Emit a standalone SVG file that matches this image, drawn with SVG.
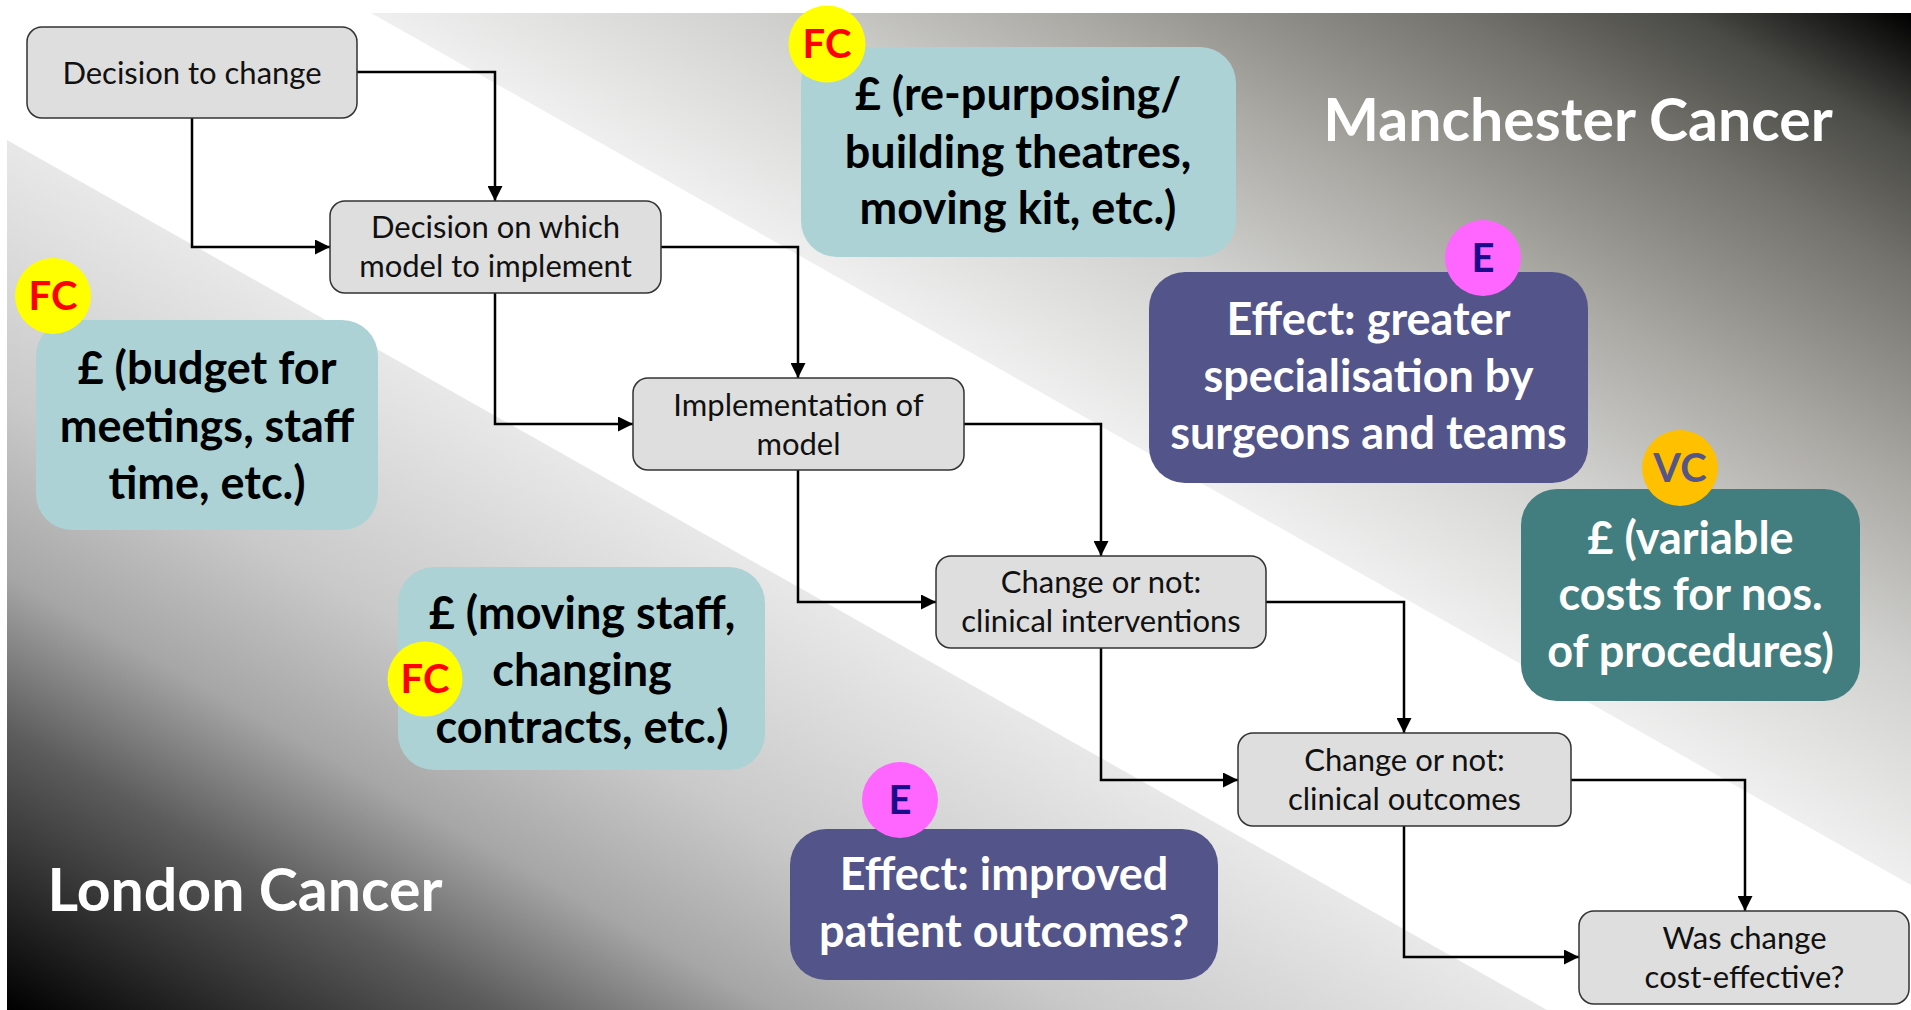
<svg xmlns="http://www.w3.org/2000/svg" width="1911" height="1010" viewBox="0 0 1911 1010">
  <defs>
    <!-- shaded corner regions -->
    <linearGradient id="gradNE" gradientUnits="userSpaceOnUse" x1="1537" y1="673" x2="1911" y2="13">
      <stop offset="0" stop-color="#efefef"/>
      <stop offset="0.25" stop-color="#d0d0ce"/>
      <stop offset="0.45" stop-color="#abaaa5"/>
      <stop offset="0.7" stop-color="#74736d"/>
      <stop offset="0.85" stop-color="#4a4a46"/>
      <stop offset="1" stop-color="#000000"/>
    </linearGradient>
    <linearGradient id="gradSW" gradientUnits="userSpaceOnUse" x1="380" y1="351" x2="7" y2="1010">
      <stop offset="0" stop-color="#e8e8e8"/>
      <stop offset="0.3" stop-color="#c9c9c9"/>
      <stop offset="0.5" stop-color="#a6a6a6"/>
      <stop offset="0.68" stop-color="#5c5c5c"/>
      <stop offset="0.85" stop-color="#2c2c2c"/>
      <stop offset="1" stop-color="#000000"/>
    </linearGradient>
    <marker id="arrow" viewBox="0 0 15 15" refX="15" refY="7.5" markerWidth="15" markerHeight="15" markerUnits="userSpaceOnUse" orient="auto">
      <path d="M0,0 L15,7.5 L0,15 z" fill="#000"/>
    </marker>
  </defs>
  <style>
    .step rect { fill: #dedede; stroke: #333333; stroke-width: 1.5; }
    .step text { font-family: Lato, "Liberation Sans", sans-serif; font-size: 31px; fill: #111; text-anchor: middle; }
    .cost rect { fill: #acd2d5; }
    .cost text { font-family: Lato, "Liberation Sans", sans-serif; font-weight: bold; font-size: 45px; fill: #000; text-anchor: middle; }
    .effect rect { fill: #53548a; }
    .effect text, .vcost text { font-family: Lato, "Liberation Sans", sans-serif; font-weight: bold; font-size: 45px; fill: #fff; text-anchor: middle; }
    .vcost rect { fill: #427e80; }
    .badge text { font-family: Lato, "Liberation Sans", sans-serif; font-weight: bold; font-size: 40px; text-anchor: middle; }
    .fc circle { fill: #ffff00; }
    .fc text { fill: #ff0000; }
    .e circle { fill: #ff66ff; }
    .e text { fill: #1a0a8c; }
    .vc circle { fill: #ffc000; }
    .vc text { fill: #55558a; }
    .title { font-family: Lato, "Liberation Sans", sans-serif; font-weight: bold; font-size: 59px; fill: #fff; text-anchor: middle; }
    .links path { fill: none; stroke: #000; stroke-width: 2.5; marker-end: url(#arrow); }
  </style>

  <!-- background -->
  <rect x="0" y="0" width="1911" height="1010" fill="#ffffff"/>
  <polygon points="371,13 1911,13 1911,885" fill="url(#gradNE)"/>
  <polygon points="7,140 1547,1010 7,1010" fill="url(#gradSW)"/>

  <text class="title" x="1578" y="141">Manchester Cancer</text>
  <text class="title" x="245" y="911">London Cancer</text>

  <!-- connectors -->
  <g id="connectors" class="links">
    <path d="M357,72 H495 V201"/>
    <path d="M192,118 V247 H330"/>
    <path d="M661,247 H798 V378"/>
    <path d="M495,293 V424 H633"/>
    <path d="M964,424 H1101 V556"/>
    <path d="M798,470 V602 H936"/>
    <path d="M1266,602 H1404 V733"/>
    <path d="M1101,648 V780 H1238"/>
    <path d="M1571,780 H1745 V911"/>
    <path d="M1404,826 V957 H1579"/>
  </g>

  <!-- process steps -->
  <g id="decision-to-change" class="step">
    <rect x="27" y="27" width="330" height="91" rx="15"/>
    <text x="192" y="84">Decision to change</text>
  </g>
  <g id="decision-model" class="step">
    <rect x="330" y="201" width="331" height="92" rx="15"/>
    <text x="495.5" y="238">Decision on which</text>
    <text x="495.5" y="277">model to implement</text>
  </g>
  <g id="implementation" class="step">
    <rect x="633" y="378" width="331" height="92" rx="15"/>
    <text x="798.5" y="416">Implementation of</text>
    <text x="798.5" y="455">model</text>
  </g>
  <g id="interventions" class="step">
    <rect x="936" y="556" width="330" height="92" rx="15"/>
    <text x="1101" y="593">Change or not:</text>
    <text x="1101" y="632">clinical interventions</text>
  </g>
  <g id="outcomes" class="step">
    <rect x="1238" y="733" width="333" height="93" rx="15"/>
    <text x="1404.5" y="771">Change or not:</text>
    <text x="1404.5" y="810">clinical outcomes</text>
  </g>
  <g id="cost-effective" class="step">
    <rect x="1579" y="911" width="330" height="93" rx="15"/>
    <text x="1744.5" y="949">Was change</text>
    <text x="1744.5" y="988">cost-effective?</text>
  </g>

  <!-- cost and effect callouts -->
  <g id="cost-theatres" class="cost">
    <rect x="801" y="47" width="435" height="210" rx="36"/>
    <text x="1018" y="110">£ (re-purposing/</text>
    <text x="1018" y="168">building theatres,</text>
    <text x="1018" y="224">moving kit, etc.)</text>
  </g>
  <g id="badge-fc-theatres" class="badge fc">
    <circle cx="827" cy="44" r="38.5"/>
    <text x="827" y="58">FC</text>
  </g>

  <g id="cost-meetings" class="cost">
    <rect x="36" y="320" width="342" height="210" rx="36"/>
    <text x="207" y="384">£ (budget for</text>
    <text x="207" y="442">meetings, staff</text>
    <text x="207" y="499">time, etc.)</text>
  </g>
  <g id="badge-fc-meetings" class="badge fc">
    <circle cx="53" cy="296" r="38"/>
    <text x="53" y="310">FC</text>
  </g>

  <g id="cost-staff" class="cost">
    <rect x="398" y="567" width="367" height="203" rx="36"/>
    <text x="582" y="629">£ (moving staff,</text>
    <text x="582" y="686">changing</text>
    <text x="582" y="743">contracts, etc.)</text>
  </g>
  <g id="badge-fc-staff" class="badge fc">
    <circle cx="425" cy="679" r="37.5"/>
    <text x="425" y="693">FC</text>
  </g>

  <g id="effect-specialisation" class="effect">
    <rect x="1149" y="272" width="439" height="211" rx="36"/>
    <text x="1368.5" y="335">Effect: greater</text>
    <text x="1368.5" y="392">specialisation by</text>
    <text x="1368.5" y="449">surgeons and teams</text>
  </g>
  <g id="badge-e-specialisation" class="badge e">
    <circle cx="1483" cy="258" r="38"/>
    <text x="1483" y="272">E</text>
  </g>

  <g id="cost-variable" class="vcost">
    <rect x="1521" y="489" width="339" height="212" rx="36"/>
    <text x="1690.5" y="554">£ (variable</text>
    <text x="1690.5" y="610">costs for nos.</text>
    <text x="1690.5" y="667">of procedures)</text>
  </g>
  <g id="badge-vc" class="badge vc">
    <circle cx="1680" cy="468" r="38"/>
    <text x="1680" y="482">VC</text>
  </g>

  <g id="effect-outcomes" class="effect">
    <rect x="790" y="829" width="428" height="151" rx="36"/>
    <text x="1004" y="890">Effect: improved</text>
    <text x="1004" y="947">patient outcomes?</text>
  </g>
  <g id="badge-e-outcomes" class="badge e">
    <circle cx="900" cy="800" r="38"/>
    <text x="900" y="814">E</text>
  </g>
</svg>
